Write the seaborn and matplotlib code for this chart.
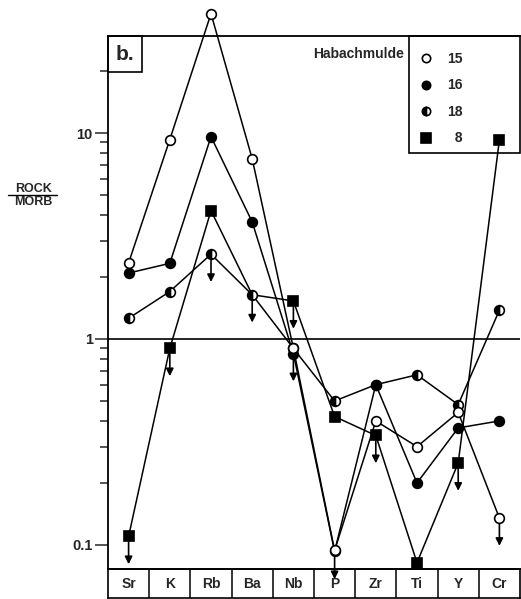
import matplotlib
matplotlib.use('Agg')
import pandas as pd
import matplotlib.pyplot as plt
import seaborn as sns
from matplotlib.lines import Line2D
from matplotlib.patches import Rectangle
from matplotlib.ticker import FixedLocator, NullFormatter

# MORB-normalised values
elements = ['Sr', 'K', 'Rb', 'Ba', 'Nb', 'P', 'Zr', 'Ti', 'Y', 'Cr']
s15 = [2.34, 9.3, 38.0, 7.5, 0.90, 0.094, 0.40, 0.30, 0.44, 0.135]
s16 = [2.09, 2.33, 9.6, 3.7, 0.85, 0.093, 0.60, 0.20, 0.37, 0.40]
s18 = [1.26, 1.70, 2.58, 1.64, 0.90, 0.50, 0.60, 0.67, 0.48, 1.38]
s8 = [0.11, 0.90, 4.2, 1.64, 1.53, 0.42, 0.34, 0.082, 0.25, 9.25]

# upper limits (down arrows)
lim15 = ['Cr']
lim16 = ['Nb', 'P']
lim18 = ['Rb', 'Ba']
lim8 = ['Sr', 'K', 'Nb', 'Zr', 'Y']
# sample 8 has no symbol at Ba, only the line passes through
hidden8 = ['Ba']

y_ticks = [0.1, 1, 10]
y_ticklabels = ['0.1', '1', '10']
y_minor = [0.2, 0.3, 0.4, 0.5, 0.6, 0.7, 0.8, 0.9, 2, 3, 4, 5, 6, 7, 8, 9, 20]

sns.set_theme(style='ticks')
plt.rcParams['font.family'] = ['Liberation Sans', 'DejaVu Sans']
plt.rcParams['font.weight'] = 'bold'

W, H = 521, 599
fig = plt.figure(figsize=(W / 100, H / 100), dpi=100)

# element boxes under the plot (added first so the main axes draws on top)
bax = fig.add_axes([108 / W, (H - 598) / H, 412 / W, 29 / H])
ax = fig.add_axes([108 / W, (H - 569) / H, 412 / W, 533 / H])
ax.set_yscale('log')


def draw_series(vals, marker, ms, face, fill='full', limits=(), hidden=()):
    df = pd.DataFrame({'pos': range(len(elements)), 'value': vals})
    keep = [i for i, e in enumerate(elements) if e not in hidden]
    sns.lineplot(data=df, x='pos', y='value', ax=ax, color='black', lw=1.1,
                 marker=marker, markersize=ms, markeredgecolor='black',
                 markeredgewidth=1.2, markerfacecolor=face, fillstyle=fill,
                 markerfacecoloralt='white', markevery=keep, clip_on=False,
                 legend=False)
    ax.lines[-1].set_zorder(3)
    for e in limits:
        i = elements.index(e)
        v = vals[i]
        ax.annotate('', xy=(i, v * 10 ** -0.135), xytext=(i, v),
                    arrowprops=dict(arrowstyle='-|>', color='black', lw=1.2,
                                    shrinkA=4, shrinkB=0, mutation_scale=11),
                    annotation_clip=False, zorder=2)
    return Line2D([], [], ls='none', marker=marker, markersize=ms - 1,
                  markeredgecolor='black', markeredgewidth=1.2,
                  markerfacecolor=face, fillstyle=fill, markerfacecoloralt='white')


h8 = draw_series(s8, 's', 7.5, 'black', limits=lim8, hidden=hidden8)
h18 = draw_series(s18, 'o', 7, 'black', fill='left', limits=lim18)
h16 = draw_series(s16, 'o', 7, 'black', limits=lim16)
h15 = draw_series(s15, 'o', 7, 'white', limits=lim15)

ax.axhline(1, color='black', lw=1.2, zorder=1)
ax.set_xlim(-0.5, 9.5)
ax.set_ylim(0.0764, 29.6)
ax.set_xticks([])
ax.set_xlabel('')
ax.set_ylabel('')
ax.set_yticks(y_ticks)
ax.set_yticklabels(y_ticklabels, fontsize=10.5, fontweight='bold')
ax.yaxis.set_minor_locator(FixedLocator(y_minor))
ax.yaxis.set_minor_formatter(NullFormatter())
ax.tick_params(axis='y', which='major', length=9.5, width=1.1, direction='out', pad=1.5)
ax.tick_params(axis='y', which='minor', length=5.5, width=1.1, direction='out')
for side in ['left', 'top', 'bottom']:
    ax.spines[side].set_linewidth(1.3)
    ax.spines[side].set_color('black')
ax.spines['right'].set_visible(False)

# panel tag
ax.add_patch(Rectangle((0, 0.9325), 0.0825, 0.0675, transform=ax.transAxes,
                       fill=False, ec='black', lw=1.2, clip_on=False))
ax.text(0.041, 0.966, 'b.', transform=ax.transAxes, ha='center', va='center',
        fontsize=15, fontweight='bold')

# legend box
ax.add_patch(Rectangle((0.7306, 0.7805), 0.2694, 0.2195, transform=ax.transAxes,
                       fill=False, ec='black', lw=1.2, clip_on=False, zorder=4))
ax.text(0.7184, 0.966, 'Habachmulde', transform=ax.transAxes, ha='right',
        va='center', fontsize=10, fontweight='bold')
ax.legend([h15, h16, h18, h8], ['15', '16', '18', '  8'], loc='upper left',
          bbox_to_anchor=(0.716, 1.0), frameon=False,
          handlelength=1.0, handletextpad=1.0, labelspacing=0.9,
          borderpad=1.15, borderaxespad=0, prop={'weight': 'bold', 'size': 10})

# y label as a fraction
fig.text(33 / W, 1 - 192 / H, 'ROCK', ha='center', va='baseline', fontsize=9, fontweight='bold')
fig.text(33 / W, 1 - 205 / H, 'MORB', ha='center', va='baseline', fontsize=9, fontweight='bold')
fig.add_artist(Line2D([8 / W, 57 / W], [1 - 194.5 / H] * 2, color='black', lw=1.0,
                      transform=fig.transFigure))

bax.set_xlim(-0.5, 9.5)
bax.set_ylim(0, 1)
bax.set_xticks([])
bax.set_yticks([])
for b in range(1, len(elements)):
    bax.axvline(b - 0.5, color='black', lw=1.1)
for i, e in enumerate(elements):
    bax.text(i, 0.5, e, ha='center', va='center', fontsize=10, fontweight='bold')
for side in bax.spines:
    bax.spines[side].set_linewidth(1.2)
    bax.spines[side].set_color('black')
ax.patch.set_visible(False)

fig.savefig('out.png', dpi=100)
